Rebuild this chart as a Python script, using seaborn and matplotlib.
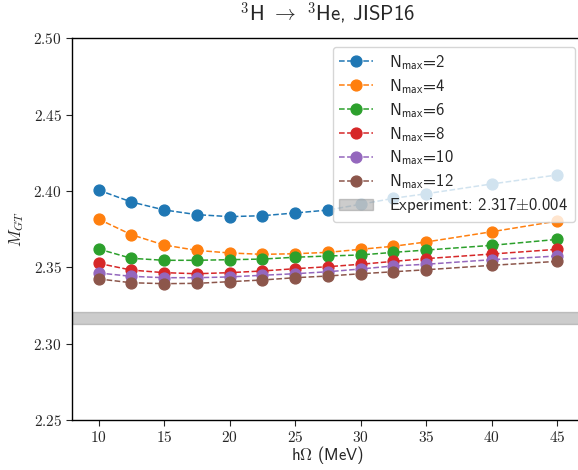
import matplotlib
matplotlib.use("Agg")
import matplotlib.pyplot as plt
from matplotlib.ticker import FuncFormatter, MultipleLocator
import seaborn as sns

# Oscillator energies (MeV)
hw = [10, 12.5, 15, 17.5, 20, 22.5, 25, 27.5, 30, 32.5, 35, 40, 45]

# Gamow-Teller matrix element for each model-space truncation
mgt_n2 = [2.4006, 2.3928, 2.3876, 2.3845, 2.3832, 2.3838, 2.3856, 2.3875,
          2.3913, 2.3952, 2.3982, 2.4046, 2.4105]
mgt_n4 = [2.3816, 2.3714, 2.3646, 2.3611, 2.3594, 2.3585, 2.3589, 2.3598,
          2.3618, 2.3638, 2.3666, 2.3733, 2.3803]
mgt_n6 = [2.3620, 2.3559, 2.3546, 2.3546, 2.3550, 2.3554, 2.3566, 2.3574,
          2.3581, 2.3598, 2.3613, 2.3644, 2.3683]
mgt_n8 = [2.3526, 2.3482, 2.3465, 2.3458, 2.3465, 2.3476, 2.3491, 2.3504,
          2.3520, 2.3539, 2.3557, 2.3587, 2.3618]
mgt_n10 = [2.3463, 2.3441, 2.3432, 2.3432, 2.3437, 2.3448, 2.3458, 2.3471,
           2.3489, 2.3509, 2.3520, 2.3550, 2.3574]
mgt_n12 = [2.3424, 2.3399, 2.3393, 2.3395, 2.3406, 2.3417, 2.3432, 2.3443,
           2.3458, 2.3471, 2.3484, 2.3513, 2.3539]

nmax_values = [2, 4, 6, 8, 10, 12]
series = [mgt_n2, mgt_n4, mgt_n6, mgt_n8, mgt_n10, mgt_n12]

# Experimental value and uncertainty
exp_value = 2.317
exp_error = 0.004

sns.set_style("ticks")
plt.rcParams["mathtext.fontset"] = "cm"
# Computer Modern Sans for plain text, DejaVu Sans for anything it lacks
plt.rcParams["font.family"] = ["cmss10", "DejaVu Sans"]
plt.rcParams["axes.unicode_minus"] = False

fig = plt.figure(figsize=(5.78, 4.70), dpi=100)
ax = fig.add_axes([0.1251, 0.1064, 0.8844, 0.8121])

palette = sns.color_palette("tab10", len(series))
for nmax, vals, color in zip(nmax_values, series, palette):
    sns.lineplot(x=hw, y=vals, ax=ax, color=color, marker="o", markersize=7.8,
                 linestyle="--", linewidth=1.1, markeredgewidth=1.0,
                 markeredgecolor=color,
                 label=r"N$_{\mathsf{max}}$=%d" % nmax)

ax.axhspan(exp_value - exp_error, exp_value + exp_error, color="gray",
           alpha=0.4,
           label=r"Experiment: %.3f$\pm$%.3f" % (exp_value, exp_error))

ax.set_xlim(8, 47)
ax.set_ylim(2.25, 2.50)
ax.xaxis.set_major_locator(MultipleLocator(5))
ax.yaxis.set_major_locator(MultipleLocator(0.05))
ax.xaxis.set_major_formatter(FuncFormatter(lambda v, p: r"$%d$" % round(v)))
ax.yaxis.set_major_formatter(FuncFormatter(lambda v, p: r"$%.2f$" % v))
ax.tick_params(axis="both", labelsize=11, direction="out", length=4, width=0.8)

for side in ["left", "bottom", "top", "right"]:
    ax.spines[side].set_linewidth(1.0)
    ax.spines[side].set_color("black")

ax.set_title(r"$^3$H $\rightarrow$ $^3$He, JISP16", fontsize=15, pad=12)
ax.set_xlabel(r"h$\Omega$ (MeV)", fontsize=12, labelpad=-1)
ax.set_ylabel(r"$M_{GT}$", fontsize=12, labelpad=5)

ax.legend(loc="upper right", fontsize=12, framealpha=0.8, labelspacing=0.3,
          handletextpad=1.0)

fig.savefig("out.png", dpi=100)
